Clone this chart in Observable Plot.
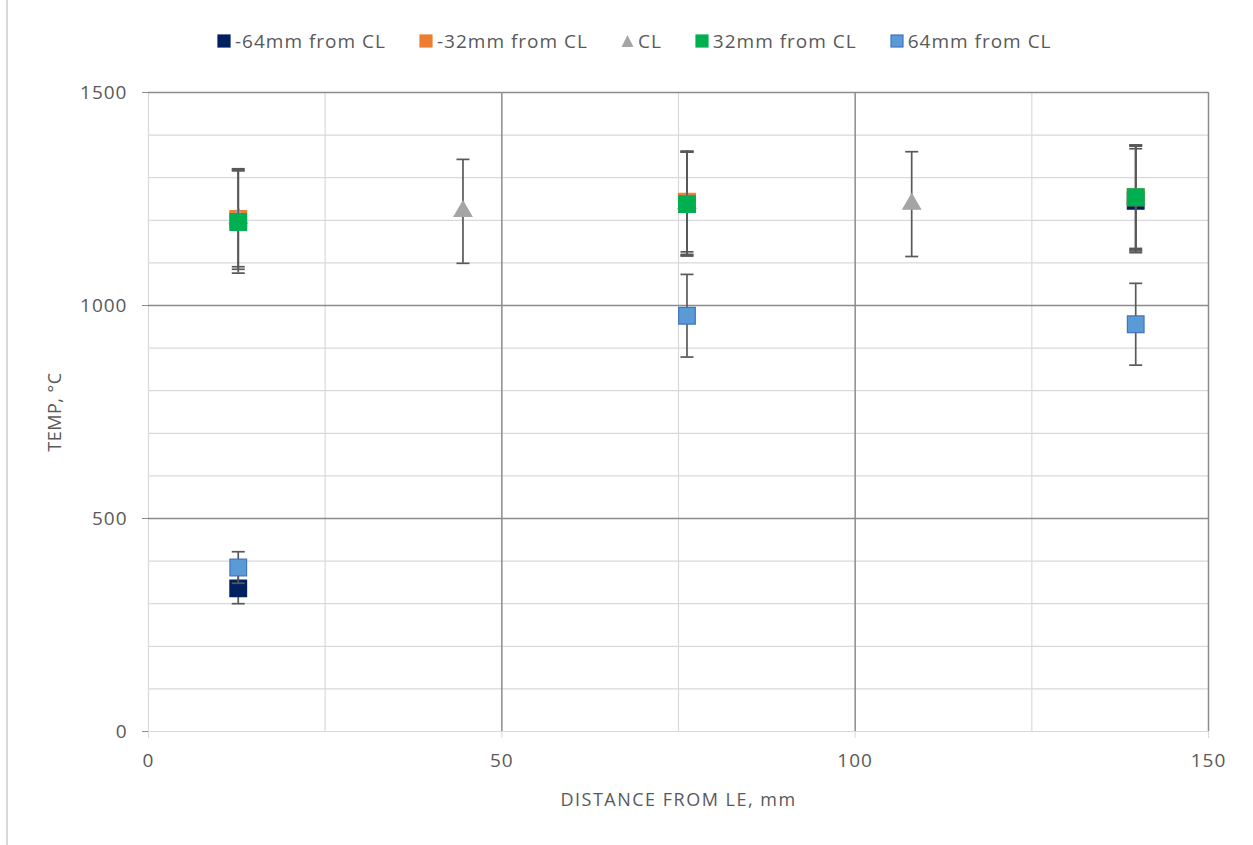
<!DOCTYPE html>
<html>
<head>
<meta charset="utf-8">
<script src="https://cdn.jsdelivr.net/npm/d3@7"></script>
<script src="https://cdn.jsdelivr.net/npm/@observablehq/plot@0.6"></script>
<style>
  body { margin: 0; background: #fff; }
  #wrap { position: relative; width: 1253px; height: 845px; overflow: hidden; background: #fff;
          font-family: "Open Sans", sans-serif; color: #595959; }
  #border { position: absolute; left: 6px; top: 0; width: 2px; height: 845px; background: #D9D9D9; }
  #legend { position: absolute; top: 28px; left: 217px; display: flex; gap: 33px; font-size: 19px;
            letter-spacing: 1px; align-items: center; white-space: nowrap; }
  .item { display: flex; align-items: center; gap: 4px; }
  .item svg { display: block; }
  #chart { position: absolute; left: 0; top: 0; }
  #chart g[aria-label="x-axis tick label"], #chart g[aria-label="y-axis tick label"] {
    font-family: "Open Sans", sans-serif; font-size: 19px; letter-spacing: 1px; }
  #chart g[aria-label="x-axis label"] { font-family: "Open Sans", sans-serif; font-size: 18px; letter-spacing: 1.5px; }
  #chart g[aria-label="y-axis label"] { font-family: "Open Sans", sans-serif; font-size: 18px; letter-spacing: 0.5px; }
</style>
</head>
<body>
<div id="wrap">
  <div id="border"></div>
  <div id="chart"></div>
  <div id="legend"></div>
</div>
<script>
// ---- data ----
const seriesNames = ["-64mm from CL", "-32mm from CL", "CL", "32mm from CL", "64mm from CL"];
const seriesColors = ["#002060", "#ED7D31", "#A5A5A5", "#00B050", "#5B9BD5"];
const seriesStrokes = ["#002060", "#ED7D31", "#A5A5A5", "#00B050", "#4472C4"];
const seriesSymbols = ["square", "square", "triangle", "square", "square"];

const neg64X = [12.7, 76.2, 139.7];
const neg64Y = [336, 1240, 1246];
const neg64Err = [36, 122, 122];

const neg32X = [12.7, 76.2, 139.7];
const neg32Y = [1203, 1244, 1254];
const neg32Err = [118, 118, 120];

const clX = [12.7, 44.5, 76.2, 108, 139.7];
const clY = [1205, 1221, 1240, 1238, 1252];
const clErr = [114, 122, 120, 123, 124];

const pos32X = [12.7, 76.2, 139.7];
const pos32Y = [1196, 1238, 1254];
const pos32Err = [120, 122, 123];

const pos64X = [12.7, 76.2, 139.7];
const pos64Y = [385, 976, 956];
const pos64Err = [37, 97, 96];

const xTicks = [0, 50, 100, 150];
const yTicks = [0, 500, 1000, 1500];
const xMinorGrid = [0, 25, 75, 125];
const xMajorGrid = [50, 100, 150];
const yMinorGrid = [0, 100, 200, 300, 400, 600, 700, 800, 900, 1100, 1200, 1300, 1400];
const yMajorGrid = [500, 1000, 1500];

// ---- build table ----
const seriesX = [neg64X, neg32X, clX, pos32X, pos64X];
const seriesY = [neg64Y, neg32Y, clY, pos32Y, pos64Y];
const seriesE = [neg64Err, neg32Err, clErr, pos32Err, pos64Err];
const rows = [];
seriesNames.forEach((name, i) => {
  seriesX[i].forEach((x, j) => rows.push({series: name, idx: i, x, y: seriesY[i][j], err: seriesE[i][j]}));
});

const cap = {draw(ctx, size) { const r = Math.sqrt(size / Math.PI); ctx.moveTo(-r, 0); ctx.lineTo(r, 0); }};

const marks = [
  Plot.gridY(yMinorGrid, {stroke: "#D9D9D9", strokeOpacity: 1, strokeWidth: 1.2}),
  Plot.gridX(xMinorGrid, {stroke: "#D9D9D9", strokeOpacity: 1, strokeWidth: 1.2}),
  Plot.gridY(yMajorGrid, {stroke: "#8C8C8C", strokeOpacity: 1, strokeWidth: 1.5}),
  Plot.gridX(xMajorGrid, {stroke: "#8C8C8C", strokeOpacity: 1, strokeWidth: 1.5}),
  Plot.axisX(xTicks, {tickSize: 7, stroke: "#D9D9D9", tickPadding: 15, tickFormat: d => String(d),
    label: "DISTANCE FROM LE, mm", labelAnchor: "center", labelOffset: 74, labelArrow: "none"}),
  Plot.axisY(yTicks, {tickSize: 6, stroke: "#8C8C8C", tickPadding: 15, tickFormat: d => String(d),
    label: "TEMP, °C", labelAnchor: "center", labelOffset: 100, labelArrow: "none"})
];

seriesNames.forEach((name, i) => {
  const d = rows.filter(r => r.idx === i);
  marks.push(
    Plot.ruleX(d, {x: "x", y1: r => r.y - r.err, y2: r => r.y + r.err, stroke: "#595959", strokeWidth: 1.7}),
    Plot.dot(d, {x: "x", y: r => r.y + r.err, symbol: cap, r: 6.5, stroke: "#595959", strokeWidth: 1.7, fill: "none"}),
    Plot.dot(d, {x: "x", y: r => r.y - r.err, symbol: cap, r: 6.5, stroke: "#595959", strokeWidth: 1.7, fill: "none"}),
    Plot.dot(d, {x: "x", y: "y", symbol: seriesSymbols[i], r: seriesSymbols[i] === "triangle" ? 6.6 : 9.4,
      fill: seriesColors[i], stroke: seriesStrokes[i], strokeWidth: 1.2})
  );
});

const chart = Plot.plot({
  width: 1253, height: 845,
  marginLeft: 148, marginRight: 45, marginTop: 92, marginBottom: 114,
  x: {domain: [0, 150]},
  y: {domain: [0, 1500]},
  style: {fontFamily: "'Open Sans', sans-serif", color: "#595959", background: "transparent", fontSize: "19px"},
  marks
});
document.getElementById("chart").appendChild(chart);

// ---- legend ----
const legend = document.getElementById("legend");
seriesNames.forEach((name, i) => {
  const item = document.createElement("div");
  item.className = "item";
  let sw;
  if (seriesSymbols[i] === "triangle") {
    sw = `<svg width="13" height="14"><polygon points="6.5,1 12.5,13 0.5,13" fill="${seriesColors[i]}"/></svg>`;
  } else {
    sw = `<svg width="14" height="14"><rect x="1" y="1" width="12" height="12" fill="${seriesColors[i]}" stroke="${seriesStrokes[i]}" stroke-width="1.2"/></svg>`;
  }
  item.innerHTML = sw + `<span>${name}</span>`;
  legend.appendChild(item);
});
</script>
</body>
</html>
